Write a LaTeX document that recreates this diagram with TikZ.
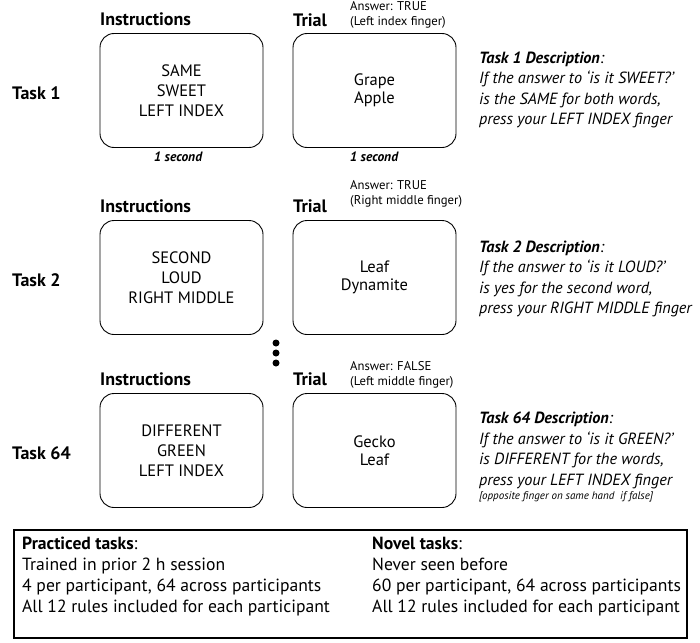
\documentclass[tikz,border=0pt]{standalone}
\usepackage{fontspec}
\setmainfont{PT Sans}
\begin{document}
\begin{tikzpicture}[x=1pt,y=-1pt,
  scrbox/.style={draw, rounded corners=14pt, line width=0.9pt, minimum width=163pt, minimum height=114pt, align=center, inner sep=0pt},
  instxt/.style={font=\fontsize{16.5}{20}\selectfont},
  trialtxt/.style={font=\fontsize{16.5}{18}\selectfont},
  collabel/.style={anchor=base west, font=\fontsize{18}{20}\selectfont\bfseries, inner sep=0pt},
  tasklabel/.style={anchor=west, font=\fontsize{18}{20}\selectfont\bfseries, inner sep=0pt},
  answer/.style={anchor=west, align=left, font=\fontsize{12.7}{15.5}\selectfont, inner sep=0pt},
  dur/.style={font=\fontsize{13.5}{15}\selectfont\bfseries\itshape, inner sep=0pt},
  desc/.style={anchor=west, align=left, font=\fontsize{16.2}{20.5}\selectfont\itshape, inner sep=0pt},
  summ/.style={anchor=west, align=left, font=\fontsize{17.6}{20.7}\selectfont, inner sep=0pt},
  dot/.style={fill=black, circle, minimum size=7pt, inner sep=0pt}
]
\useasboundingbox (0,0) rectangle (700,642);

% Row 1
\node[tasklabel] (t1) at (12,93) {Task 1};
\node[collabel] (il1) at (100,26) {Instructions};
\node[collabel] (tl1) at (293,27) {Trial};
\node[answer] (a1) at (350,15) {Answer: TRUE\\(Left index finger)};
\node[scrbox, instxt] (i1) at (181.5,90.5) {SAME\\SWEET\\LEFT INDEX};
\node[scrbox, trialtxt] (r1) at (374.5,90.5) {Grape\\Apple};
\node[dur] (s1) at (178,157) {1 second};
\node[dur] (s2) at (374,157) {1 second};
\node[desc] (d1) at (479,90) {{\bfseries Task 1 Description}:\\If the answer to ‘is it SWEET?’\\is the SAME for both words,\\press your LEFT INDEX finger};

% Row 2
\node[tasklabel] (t2) at (12,280) {Task 2};
\node[collabel] (il2) at (100,212) {Instructions};
\node[collabel] (tl2) at (293,212) {Trial};
\node[answer] (a2) at (350,194) {Answer: TRUE\\(Right middle finger)};
\node[scrbox, instxt] (i2) at (181.5,277.5) {SECOND\\LOUD\\RIGHT MIDDLE};
\node[scrbox, trialtxt] (r2) at (374.5,277.5) {Leaf\\Dynamite};
\node[desc] (d2) at (479,279) {{\bfseries Task 2 Description}:\\If the answer to ‘is it LOUD?’\\is yes for the second word,\\press your RIGHT MIDDLE finger};

% dots
\node[dot] (dA) at (276,343) {};
\node[dot] (dB) at (276,353) {};
\node[dot] (dC) at (276,363) {};

% Row 3
\node[tasklabel] (t3) at (12,453) {Task 64};
\node[collabel] (il3) at (100,385) {Instructions};
\node[collabel] (tl3) at (293,385) {Trial};
\node[answer] (a3) at (350,375) {Answer: FALSE\\(Left middle finger)};
\node[scrbox, instxt] (i3) at (181.5,450.5) {DIFFERENT\\GREEN\\LEFT INDEX};
\node[scrbox, trialtxt] (r3) at (374.5,450.5) {Gecko\\Leaf};
\node[desc] (d3) at (479,450.5) {{\bfseries Task 64 Description}:\\If the answer to ‘is it GREEN?’\\is DIFFERENT for the words,\\press your LEFT INDEX finger};
\node[anchor=west, inner sep=0pt, font=\fontsize{11}{12}\selectfont\itshape] (d3n) at (479,497) {[opposite finger on same hand\ \ if false]};

% Summary box
\node[draw, line width=2.5pt, minimum width=673pt, minimum height=108pt, inner sep=0pt] (sb) at (350.5,584) {};
\node[summ] (p) at (22,576.5) {{\bfseries Practiced tasks}:\\Trained in prior 2 h session\\4 per participant, 64 across participants\\All 12 rules included for each participant};
\node[summ] (n) at (372,576.5) {{\bfseries Novel tasks}:\\Never seen before\\60 per participant, 64 across participants\\All 12 rules included for each participant};
\end{tikzpicture}
\end{document}
